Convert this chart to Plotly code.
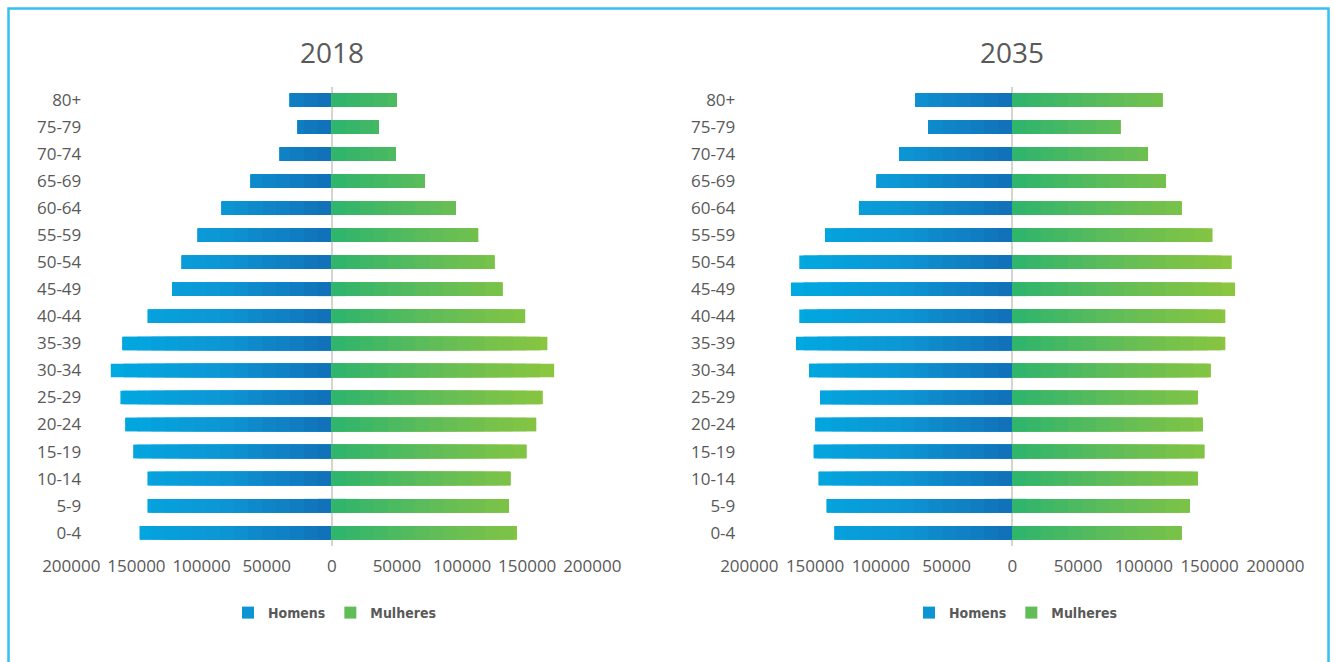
import plotly.graph_objects as go

# ---------------- data ----------------
ages = ["80+", "75-79", "70-74", "65-69", "60-64", "55-59", "50-54", "45-49",
        "40-44", "35-39", "30-34", "25-29", "20-24", "15-19", "10-14", "5-9", "0-4"]

homens_2018 = [32200, 26100, 39900, 62200, 84500, 102900, 115200, 122600,
               141300, 161000, 169700, 162300, 158500, 152300, 141300, 141300, 147400]
mulheres_2018 = [49900, 36100, 49100, 71400, 95200, 112300, 124800, 131000,
                 148400, 165500, 170700, 162000, 156900, 149400, 137100, 135900, 142000]

homens_2035 = [73500, 63900, 85900, 103100, 116600, 142400, 162000, 168300,
               162000, 164500, 154600, 146200, 149800, 151000, 147200, 141100, 135100]
mulheres_2035 = [114100, 82100, 103200, 116700, 128800, 152100, 166900, 169400,
                 162000, 162000, 150900, 141200, 144800, 146000, 141200, 134900, 128800]

tick_vals = [-200000, -150000, -100000, -50000, 0, 50000, 100000, 150000, 200000]
tick_text = ["200000", "150000", "100000", "50000", "0", "50000", "100000", "150000", "200000"]

years = ["2018", "2035"]

# ---------------- style ----------------
TXT = "#595959"
BLUE_STOPS = [(0.0, (17, 112, 184)), (0.5, (13, 150, 212)), (1.0, (0, 170, 226))]
GREEN_STOPS = [(0.0, (45, 180, 110)), (0.5, (100, 190, 85)), (1.0, (141, 198, 63))]


def color_at(stops, t):
    t = max(0.0, min(1.0, t))
    for (t0, c0), (t1, c1) in zip(stops[:-1], stops[1:]):
        if t <= t1:
            f = (t - t0) / (t1 - t0) if t1 > t0 else 0
            c = [round(a + (b - a) * f) for a, b in zip(c0, c1)]
            return "rgb(%d,%d,%d)" % tuple(c)
    return "rgb(%d,%d,%d)" % stops[-1][1]


fig = go.Figure()
K = 16
panels = [
    (homens_2018, mulheres_2018, "x", "y", "legend"),
    (homens_2035, mulheres_2035, "x2", "y2", "legend2"),
]
for men, women, xa, ya, lg in panels:
    M = max(max(men), max(women))
    for name, values, sign, stops in [("Homens", men, -1, BLUE_STOPS),
                                      ("Mulheres", women, 1, GREEN_STOPS)]:
        for k in range(K):
            frac = (K - k) / K
            cap = M * frac
            xs = [sign * min(v, cap) for v in values]
            col = color_at(stops, (K - k - 0.5) / K)
            fig.add_trace(go.Bar(
                y=ages, x=xs, orientation="h", name=name,
                marker=dict(color=col, line=dict(width=0)),
                xaxis=xa, yaxis=ya, legend=lg,
                showlegend=(k == K // 2), legendgroup=name + xa,
                customdata=values, hovertemplate="%{y}: %{customdata}<extra>" + name + "</extra>",
            ))

W, H = 1334, 662
ydom = [1 - 546.2 / H, 1 - 86.5 / H]
xdom1 = [71.3 / W, 592.3 / W]
xdom2 = [749.3 / W, 1275.3 / W]

axis_font = dict(family="Open Sans, DejaVu Sans, sans-serif", size=17, color=TXT)
xcommon = dict(range=[-200000, 200000], tickvals=tick_vals, ticktext=tick_text,
               showgrid=False, zeroline=True, zerolinecolor="#d4d4d4", zerolinewidth=2,
               showline=False, ticks="", tickfont=axis_font, layer="above traces",
               automargin=False, fixedrange=True, ticklabelstandoff=8)
ycommon = dict(type="category", categoryorder="array", categoryarray=ages,
               autorange="reversed", showgrid=False, zeroline=False, showline=False,
               ticks="", tickfont=axis_font, automargin=False, fixedrange=True)

legend_common = dict(orientation="h", xanchor="left", yanchor="middle", y=1 - 613 / H,
                     font=dict(family="DejaVu Sans Condensed, Liberation Sans Narrow, Liberation Sans, sans-serif",
                               size=14, color=TXT, weight="bold"),
                     itemwidth=30,
                     bgcolor="rgba(0,0,0,0)", traceorder="normal")

fig.update_layout(
    width=W, height=H,
    margin=dict(l=0, r=0, t=0, b=0),
    paper_bgcolor="white", plot_bgcolor="white",
    barmode="overlay", bargap=0.5,
    xaxis=dict(domain=xdom1, anchor="y", **xcommon),
    yaxis=dict(domain=ydom, anchor="x", ticklabelstandoff=-11, **ycommon),
    xaxis2=dict(domain=xdom2, anchor="y2", **xcommon),
    yaxis2=dict(domain=ydom, anchor="x2", ticklabelstandoff=13, **ycommon),
    legend=dict(x=(248 - 20) / W, **legend_common),
    legend2=dict(x=(929 - 20) / W, **legend_common),
    annotations=[
        dict(text=years[0], x=331.8 / W, y=1 - 52 / H, xref="paper", yref="paper",
             showarrow=False, xanchor="center", yanchor="middle",
             font=dict(family="Open Sans, DejaVu Sans, sans-serif", size=28, color=TXT)),
        dict(text=years[1], x=1012.3 / W, y=1 - 52 / H, xref="paper", yref="paper",
             showarrow=False, xanchor="center", yanchor="middle",
             font=dict(family="Open Sans, DejaVu Sans, sans-serif", size=28, color=TXT)),
    ],
    shapes=[dict(type="rect", xref="paper", yref="paper",
                 x0=8.5 / W, x1=1328.5 / W, y0=-0.2, y1=1 - 8.5 / H,
                 line=dict(color="#35c0ef", width=2.5), fillcolor="rgba(0,0,0,0)", layer="above")],
    hovermode="closest",
)

fig.write_html("out.html", config={"displayModeBar": False},
               post_script="document.body.style.margin='0';document.body.style.overflow='hidden';")
